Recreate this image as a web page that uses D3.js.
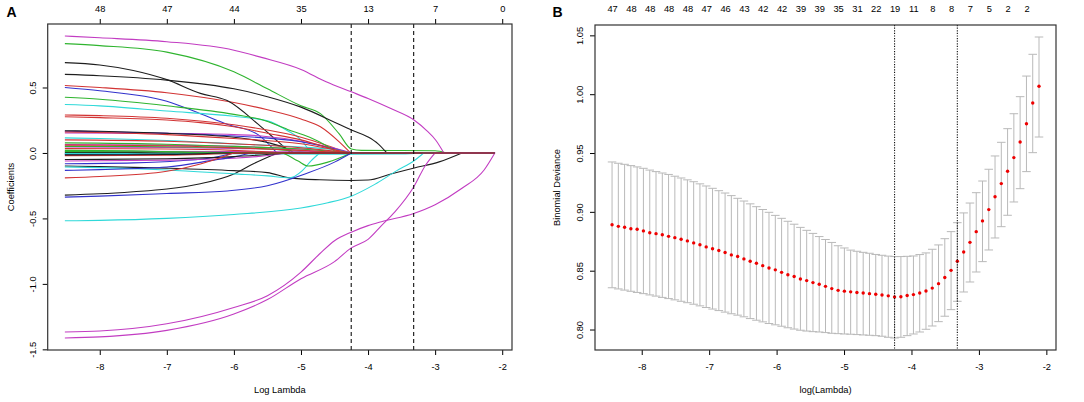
<!DOCTYPE html>
<html>
<head>
<meta charset="utf-8">
<script src="https://cdn.jsdelivr.net/npm/d3@7"></script>
<style>
body { margin: 0; background: #fff; }
svg text { font-family: "Liberation Sans", Arial, sans-serif; fill: #000; }
</style>
</head>
<body>
<div id="chart"></div>
<script>
// ---------------- panel A : coefficient paths (log lambda, coefficient) ----------------
const pathEnd = -2.11
const xTicksA = [-8, -7, -6, -5, -4, -3, -2]
const dfTopA = [48, 47, 44, 35, 13, 7, 0]
const yTicksA = [0.5, 0, -0.5, -1, -1.5]

const blackPaths = [
    [[-8.52,0.69],[-8,0.672],[-7.5,0.63],[-7,0.56],[-6.5,0.455],[-6.1,0.4],[-5.64,0.22],[-5.36,0.094],[-5.15,0]],
    [[-8.52,0.6],[-8,0.59],[-7,0.556],[-6,0.49],[-5.5,0.43],[-5,0.35],[-4.5,0.235],[-4.25,0.175],[-4,0.122],[-3.85,0.07],[-3.72,0]],
    [[-8.52,0.17],[-8,0.166],[-7,0.15],[-6,0.12],[-5.5,0.08],[-5.2,0.03],[-5.1,0]],
    [[-8.52,-0.1],[-8,-0.104],[-7,-0.116],[-6,-0.135],[-5.5,-0.15],[-5.17,-0.19],[-4.72,-0.205],[-4.25,-0.21],[-4,-0.207],[-3.66,-0.16],[-3.31,-0.115],[-2.94,-0.068],[-2.6,0]],
    [[-8.52,-0.322],[-8,-0.312],[-7.5,-0.296],[-7,-0.275],[-6.5,-0.235],[-6,-0.16],[-5.7,-0.08],[-5.35,0]],
    [[-8.52,0.004],[-7.6,0.003],[-7,0]],
    [[-8.52,-0.05],[-7,-0.044],[-6,-0.028],[-5.2,0]],
    [[-8.52,-0.015],[-7,-0.012],[-6.2,0]]
]
const redPaths = [
    [[-8.52,0.515],[-8,0.5],[-7,0.46],[-6,0.385],[-5.5,0.33],[-5,0.26],[-4.71,0.2],[-4.43,0.085],[-4.26,0]],
    [[-8.52,0.29],[-8,0.285],[-7,0.265],[-6,0.215],[-5.5,0.175],[-5,0.12],[-4.6,0.055],[-4.3,0]],
    [[-8.52,0.276],[-8,0.27],[-7,0.252],[-6.5,0.232],[-6,0.2],[-5.5,0.15],[-5,0.1],[-4.6,0.04],[-4.35,0]],
    [[-8.52,0.16],[-7,0.14],[-6,0.11],[-5,0.07],[-4.5,0.025],[-4.25,0]],
    [[-8.52,0.1],[-7,0.09],[-6,0.07],[-5,0.04],[-4.25,0]],
    [[-8.52,0.06],[-7,0.055],[-6,0.04],[-5,0.02],[-4.25,0]],
    [[-8.52,0.033],[-7,0.03],[-6,0.02],[-5.2,0]],
    [[-8.52,-0.02],[-7,-0.017],[-6.3,-0.008],[-5.8,0]],
    [[-8.52,-0.19],[-8,-0.18],[-7,-0.14],[-6.5,-0.085],[-6.25,-0.045],[-6,0]]
]
const greenPaths = [
    [[-8.52,0.835],[-8,0.82],[-7,0.77],[-6,0.62],[-5.5,0.49],[-5,0.36],[-4.71,0.3],[-4.43,0.145],[-4.25,0.03],[-4.1,0.02],[-3.5,0.019],[-3,0.017],[-2.83,0]],
    [[-8.52,0.425],[-8,0.41],[-7,0.36],[-6,0.295],[-5.59,0.255],[-5.2,0.18],[-4.87,0.12],[-4.6,0.05],[-4.45,0]],
    [[-8.52,0.077],[-7,0.067],[-6,0.05],[-5,0.03],[-4.25,0]],
    [[-8.52,0.05],[-7,0.048],[-6,0.04],[-5.5,0.03],[-4.8,0]],
    [[-8.52,0.02],[-7.5,0.017],[-6.5,0]],
    [[-8.52,0.01],[-7,0.008],[-6,0.004],[-5.3,0],[-5.05,-0.06],[-4.89,-0.1],[-4.6,-0.07],[-4.25,0]]
]
const bluePaths = [
    [[-8.52,0.5],[-8,0.475],[-7,0.395],[-6.5,0.3],[-6.1,0.22],[-5.64,0.14],[-5.36,0]],
    [[-8.52,0.166],[-8,0.162],[-7,0.15],[-6,0.13],[-5,0.085],[-4.5,0.03],[-4.25,0]],
    [[-8.52,-0.005],[-7.5,-0.003],[-6.8,0]],
    [[-8.52,-0.012],[-7,-0.01],[-6.2,0]],
    [[-8.52,-0.082],[-7.5,-0.076],[-6.8,-0.06],[-6.3,-0.035],[-6,0]],
    [[-8.52,-0.133],[-8,-0.127],[-7,-0.107],[-6.3,-0.055],[-6,-0.03],[-5.75,0]],
    [[-8.52,-0.337],[-8,-0.33],[-7,-0.31],[-6.1,-0.29],[-5.5,-0.25],[-4.94,-0.16],[-4.5,-0.07],[-4.25,0]]
]
const cyanPaths = [
    [[-8.52,0.37],[-8,0.36],[-7,0.32],[-6,0.28],[-5.5,0.245],[-5.2,0.17],[-5,0.1],[-4.85,0]],
    [[-8.52,0.115],[-8,0.11],[-7,0.095],[-6,0.07],[-5,0.045],[-4.5,0.025],[-4.25,0]],
    [[-8.52,-0.004],[-6,-0.006],[-4.25,-0.01],[-3.5,-0.008],[-3.2,0]],
    [[-8.52,-0.008],[-7,-0.006],[-6.5,0]],
    [[-8.52,-0.107],[-8,-0.112],[-7,-0.13],[-6,-0.16],[-5.5,-0.175],[-5.17,-0.19],[-4.98,-0.135],[-4.85,-0.06],[-4.72,0]],
    [[-8.52,-0.518],[-8,-0.515],[-7,-0.5],[-6,-0.47],[-5,-0.42],[-4.6,-0.38],[-4.25,-0.33],[-3.9,-0.24],[-3.57,-0.135],[-3.31,-0.058],[-3.17,0]]
]
const magentaPaths = [
    [[-8.52,0.893],[-8,0.88],[-7,0.85],[-6,0.785],[-5.59,0.73],[-5,0.638],[-4.625,0.543],[-4.25,0.467],[-4,0.416],[-3.66,0.339],[-3.31,0.25],[-3.13,0.173],[-2.99,0.097],[-2.87,0]],
    [[-8.52,0.153],[-7,0.15],[-6,0.14],[-5.59,0.13],[-5,0.09],[-4.5,0.035],[-4.25,0]],
    [[-8.52,0.064],[-7,0.06],[-6,0.05],[-5,0.03],[-4.3,0]],
    [[-8.52,0.046],[-7,0.042],[-6,0.035],[-5,0.02],[-4.6,0]],
    [[-8.52,0.012],[-6,0.01],[-5,0.008],[-4.25,0]],
    [[-8.52,-0.061],[-7,-0.055],[-6,-0.04],[-5.5,-0.02],[-5.2,0]],
    [[-8.52,-1.367],[-8,-1.36],[-7,-1.305],[-6,-1.18],[-5.5,-1.09],[-5,-0.91],[-4.72,-0.77],[-4.5,-0.67],[-4.25,-0.605],[-4,-0.555],[-3.8,-0.525],[-3.32,-0.462],[-3,-0.395],[-2.6,-0.27],[-2.27,-0.13],[-2.11,0]],
    [[-8.52,-1.413],[-8,-1.405],[-7,-1.355],[-6,-1.23],[-5.5,-1.12],[-5,-0.96],[-4.5,-0.83],[-4.25,-0.725],[-4,-0.66],[-3.8,-0.555],[-3.6,-0.45],[-3.32,-0.26],[-3.15,-0.1],[-3,0]]
]

// ---------------- panel B : cross-validation curve ----------------
const logLambda = [
    -8.440,-8.347,-8.254,-8.161,-8.068,-7.975,-7.881,-7.788,-7.695,-7.602,
    -7.509,-7.416,-7.323,-7.230,-7.137,-7.044,-6.950,-6.857,-6.764,-6.671,
    -6.578,-6.485,-6.392,-6.299,-6.206,-6.113,-6.019,-5.926,-5.833,-5.740,
    -5.647,-5.554,-5.461,-5.368,-5.275,-5.182,-5.088,-4.995,-4.902,-4.809,
    -4.716,-4.623,-4.530,-4.437,-4.344,-4.251,-4.157,-4.064,-3.971,-3.878,
    -3.785,-3.692,-3.599,-3.506,-3.413,-3.320,-3.226,-3.133,-3.040,-2.947,
    -2.854,-2.761,-2.668,-2.575,-2.482,-2.389,-2.295,-2.202,-2.109
]
const cvm = [
    0.8891,0.8877,0.8869,0.8857,0.8852,0.8838,0.8823,0.8815,0.8806,0.8792,
    0.8781,0.8767,0.8753,0.8736,0.8721,0.8702,0.8687,0.8671,0.8654,0.8634,
    0.8620,0.8600,0.8580,0.8563,0.8543,0.8523,0.8507,0.8486,0.8466,0.8450,
    0.8430,0.8416,0.8399,0.8385,0.8367,0.8348,0.8333,0.8326,0.8320,0.8315,
    0.8310,0.8305,0.8300,0.8293,0.8286,0.8277,0.8279,0.8289,0.8297,0.8310,
    0.8327,0.8352,0.8390,0.8442,0.8503,0.8580,0.8659,0.8741,0.8832,0.8923,
    0.9019,0.9129,0.9240,0.9345,0.9461,0.9594,0.9749,0.9925,1.0067
]
const cvup = [
    0.9424,0.9413,0.9404,0.9393,0.9382,0.9370,0.9355,0.9342,0.9330,0.9318,
    0.9303,0.9288,0.9272,0.9256,0.9238,0.9220,0.9200,0.9180,0.9160,0.9138,
    0.9115,0.9092,0.9068,0.9044,0.9020,0.8996,0.8970,0.8945,0.8920,0.8895,
    0.8868,0.8843,0.8817,0.8790,0.8765,0.8740,0.8712,0.8693,0.8675,0.8665,
    0.8656,0.8648,0.8638,0.8631,0.8624,0.8620,0.8620,0.8622,0.8625,0.8637,
    0.8651,0.8682,0.8719,0.8772,0.8832,0.8908,0.8991,0.9075,0.9163,0.9262,
    0.9362,0.9475,0.9591,0.9707,0.9834,0.9979,1.0154,1.0339,1.0486
]
const cvlo = [
    0.8355,0.8345,0.8335,0.8325,0.8315,0.8305,0.8294,0.8284,0.8273,0.8263,
    0.8252,0.8240,0.8228,0.8215,0.8201,0.8187,0.8174,0.8161,0.8148,0.8134,
    0.8122,0.8108,0.8093,0.8079,0.8065,0.8051,0.8040,0.8028,0.8015,0.8004,
    0.7994,0.7987,0.7982,0.7979,0.7974,0.7968,0.7965,0.7962,0.7960,0.7957,
    0.7954,0.7951,0.7948,0.7943,0.7934,0.7928,0.7934,0.7948,0.7962,0.7979,
    0.8002,0.8030,0.8067,0.8113,0.8169,0.8240,0.8319,0.8404,0.8489,0.8577,
    0.8676,0.8778,0.8874,0.8971,0.9084,0.9197,0.9342,0.9503,0.9636
]
// number of non-zero coefficients, printed above every third lambda
const nzeroTop = [47,48,48,48,48,47,46,43,42,42,39,39,35,31,22,19,11,8,8,7,5,2,2]
const xTicksB = [-8, -7, -6, -5, -4, -3, -2]
const yTicksB = [0.80, 0.85, 0.90, 0.95, 1.00, 1.05]
const lambdaMin = -4.251
const lambda1se = -3.320

// ---------------- drawing ----------------
const width = 1084
const height = 402
const fontSize = 9.3

const svg = d3.select("div#chart").append("svg").attr("width", width).attr("height", height)

const colours = {
    black: "#1e1e1e", red: "#d23434", green: "#2fb42f",
    blue: "#3232cc", cyan: "#2fd9d9", magenta: "#c23cc2",
}

function styleAxis(g) {
    g.select(".domain").remove()
    g.selectAll(".tick line").attr("stroke", "#000").attr("stroke-width", 1)
    g.selectAll(".tick text").attr("font-size", fontSize).attr("fill", "#000")
}

function rotateLeftLabels(g, offset) {
    g.selectAll(".tick text")
        .attr("x", null).attr("dy", null)
        .attr("text-anchor", "middle")
        .attr("transform", `translate(${-offset},0) rotate(-90)`)
}

// ---- panel A ----
const boxA = { left: 47.7, right: 512, top: 24, bottom: 350 }
const xA = d3.scaleLinear().domain([-8.776, -1.854]).range([boxA.left, boxA.right])
const yA = d3.scaleLinear().domain([-1.505, 0.985]).range([boxA.bottom, boxA.top])

const pathGroup = svg.append("g").attr("class", "paths")
const curve = d3.line().x(d => xA(d[0])).y(d => yA(d[1])).curve(d3.curveMonotoneX)

const groups = [
    ["red", redPaths], ["green", greenPaths], ["blue", bluePaths],
    ["magenta", magentaPaths], ["cyan", cyanPaths], ["black", blackPaths],
]
// interleave the colours the way matplot draws the variables
let allPaths = []
groups.forEach(([c, list], gi) => {
    list.forEach((p, j) => allPaths.push({ colour: c, pts: p, key: j / list.length + gi * 1e-3 }))
})
allPaths.sort((a, b) => a.key - b.key)

pathGroup.selectAll("path").data(allPaths).enter()
    .append("path")
    .attr("d", d => {
        const last = d.pts[d.pts.length - 1]
        return curve(d.pts) + `L${xA(pathEnd)},${yA(last[1])}`
    })
    .attr("fill", "none")
    .attr("stroke", d => colours[d.colour])
    .attr("stroke-width", 1.1)

svg.append("g").selectAll("line").data([lambdaMin, lambda1se]).enter()
    .append("line")
    .attr("x1", d => xA(d)).attr("x2", d => xA(d))
    .attr("y1", boxA.top).attr("y2", boxA.bottom)
    .attr("stroke", "#111").attr("stroke-width", 1.1)
    .attr("stroke-dasharray", "4,3")

svg.append("g")
    .attr("transform", `translate(0,${boxA.bottom})`)
    .call(d3.axisBottom(xA).tickValues(xTicksA).tickSize(5).tickPadding(8).tickFormat(d => String(d)))
    .call(styleAxis)

svg.append("g")
    .attr("transform", `translate(0,${boxA.top})`)
    .call(d3.axisTop(xA).tickValues(xTicksA).tickSize(5).tickPadding(7).tickFormat((d, i) => dfTopA[i]))
    .call(styleAxis)

svg.append("g")
    .attr("transform", `translate(${boxA.left},0)`)
    .call(d3.axisLeft(yA).tickValues(yTicksA).tickSize(5).tickFormat(d => d.toFixed(1)))
    .call(styleAxis)
    .call(g => rotateLeftLabels(g, 12))

svg.append("rect")
    .attr("x", boxA.left).attr("y", boxA.top)
    .attr("width", boxA.right - boxA.left).attr("height", boxA.bottom - boxA.top)
    .attr("fill", "none").attr("stroke", "#333").attr("stroke-width", 1.2)

svg.append("text").attr("x", (boxA.left + boxA.right) / 2).attr("y", 392.5)
    .attr("text-anchor", "middle").attr("font-size", fontSize).text("Log Lambda")
svg.append("text").attr("transform", `translate(13.5,${(boxA.top + boxA.bottom) / 2}) rotate(-90)`)
    .attr("text-anchor", "middle").attr("font-size", fontSize).text("Coefficients")
svg.append("text").attr("x", 6.5).attr("y", 17).attr("font-size", 14).attr("font-weight", "bold").text("A")

// ---- panel B ----
const boxB = { left: 595, right: 1056, top: 25, bottom: 350 }
const xB = d3.scaleLinear().domain([-8.693, -1.857]).range([boxB.left, boxB.right])
const yB = d3.scaleLinear().domain([0.7826, 1.0588]).range([boxB.bottom, boxB.top])
const barW = (d3.max(logLambda) - d3.min(logLambda)) * 0.01

const cvData = logLambda.map((x, i) => ({ x: x, m: cvm[i], up: cvup[i], lo: cvlo[i] }))

const bars = svg.append("g").attr("class", "errorBars")
    .attr("stroke", "#b9b9b9").attr("stroke-width", 1)
bars.selectAll("line.v").data(cvData).enter().append("line").attr("class", "v")
    .attr("x1", d => xB(d.x)).attr("x2", d => xB(d.x))
    .attr("y1", d => yB(d.up)).attr("y2", d => yB(d.lo))
bars.selectAll("line.u").data(cvData).enter().append("line").attr("class", "u")
    .attr("x1", d => xB(d.x - barW)).attr("x2", d => xB(d.x + barW))
    .attr("y1", d => yB(d.up)).attr("y2", d => yB(d.up))
bars.selectAll("line.l").data(cvData).enter().append("line").attr("class", "l")
    .attr("x1", d => xB(d.x - barW)).attr("x2", d => xB(d.x + barW))
    .attr("y1", d => yB(d.lo)).attr("y2", d => yB(d.lo))

svg.append("g").selectAll("circle").data(cvData).enter()
    .append("circle")
    .attr("cx", d => xB(d.x)).attr("cy", d => yB(d.m))
    .attr("r", 1.7).attr("fill", "#ee0000")

svg.append("g").selectAll("line").data([lambdaMin, lambda1se]).enter()
    .append("line")
    .attr("x1", d => xB(d)).attr("x2", d => xB(d))
    .attr("y1", boxB.top).attr("y2", boxB.bottom)
    .attr("stroke", "#111").attr("stroke-width", 1.1)
    .attr("stroke-dasharray", "1.2,1.4")

svg.append("g")
    .attr("transform", `translate(0,${boxB.bottom})`)
    .call(d3.axisBottom(xB).tickValues(xTicksB).tickSize(5).tickPadding(8).tickFormat(d => String(d)))
    .call(styleAxis)

const topLambda = logLambda.filter((d, i) => i % 3 === 0)
svg.append("g")
    .attr("transform", `translate(0,${boxB.top})`)
    .call(d3.axisTop(xB).tickValues(topLambda).tickSize(0).tickPadding(13).tickFormat((d, i) => nzeroTop[i]))
    .call(styleAxis)

svg.append("g")
    .attr("transform", `translate(${boxB.left},0)`)
    .call(d3.axisLeft(yB).tickValues(yTicksB).tickSize(5).tickFormat(d => d.toFixed(2)))
    .call(styleAxis)
    .call(g => rotateLeftLabels(g, 12))

svg.append("rect")
    .attr("x", boxB.left).attr("y", boxB.top)
    .attr("width", boxB.right - boxB.left).attr("height", boxB.bottom - boxB.top)
    .attr("fill", "none").attr("stroke", "#333").attr("stroke-width", 1.2)

svg.append("text").attr("x", (boxB.left + boxB.right) / 2).attr("y", 392.5)
    .attr("text-anchor", "middle").attr("font-size", fontSize).text("log(Lambda)")
svg.append("text").attr("transform", `translate(560,${(boxB.top + boxB.bottom) / 2}) rotate(-90)`)
    .attr("text-anchor", "middle").attr("font-size", fontSize).text("Binomial Deviance")
svg.append("text").attr("x", 552.5).attr("y", 16.5).attr("font-size", 14).attr("font-weight", "bold").text("B")
</script>
</body>
</html>
